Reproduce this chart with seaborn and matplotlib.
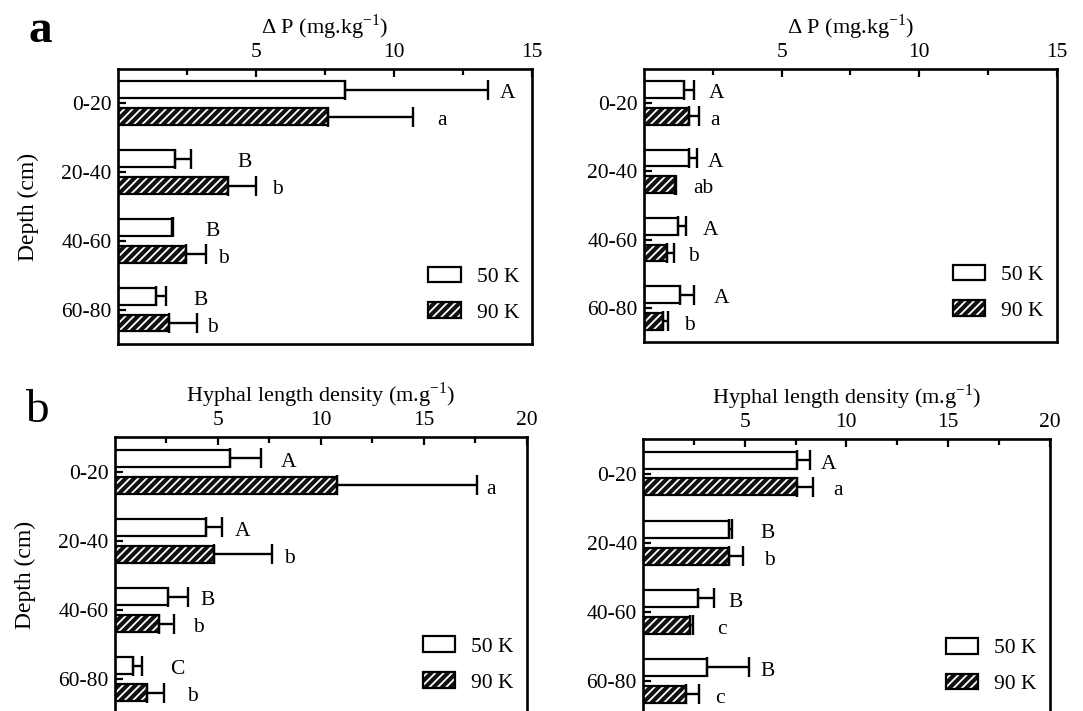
import numpy as np
import pandas as pd
import matplotlib
matplotlib.use('Agg')
import matplotlib.pyplot as plt
import matplotlib.patches as mpatches
import seaborn as sns

sns.set_theme(style='ticks', rc={'axes.edgecolor': 'black', 'xtick.color': 'black',
                                 'ytick.color': 'black', 'text.color': 'black',
                                 'axes.labelcolor': 'black'})
plt.rcParams['font.family'] = ['Liberation Serif', 'DejaVu Serif']
plt.rcParams['mathtext.fontset'] = 'custom'
plt.rcParams['mathtext.rm'] = 'Liberation Serif'
plt.rcParams['hatch.linewidth'] = 1.3

depths = ['0-20', '20-40', '40-60', '60-80']
treatments = ['50 K', '90 K']

# panel a, left: delta P
dp_l_50 = [8.24, 2.07, 1.94, 1.38]
dp_l_50_err = [5.15, 0.57, 0.06, 0.35]
dp_l_90 = [7.62, 3.97, 2.45, 1.84]
dp_l_90_err = [3.08, 1.04, 0.75, 1.01]
dp_l_letters = ['A', 'a', 'B', 'b', 'B', 'b', 'B', 'b']

# panel a, right: delta P
dp_r_50 = [1.44, 1.63, 1.22, 1.30]
dp_r_50_err = [0.38, 0.31, 0.29, 0.52]
dp_r_90 = [1.65, 1.13, 0.85, 0.71]
dp_r_90_err = [0.35, 0.04, 0.24, 0.17]
dp_r_letters = ['A', 'a', 'A', 'ab', 'A', 'b', 'A', 'b']

# panel b, left: hyphal length density
hl_l_50 = [5.60, 4.42, 2.57, 0.88]
hl_l_50_err = [1.48, 0.78, 0.99, 0.44]
hl_l_90 = [10.77, 4.79, 2.13, 1.53]
hl_l_90_err = [6.80, 2.84, 0.73, 0.83]
hl_l_letters = ['A', 'a', 'A', 'b', 'B', 'b', 'C', 'b']

# panel b, right: hyphal length density
hl_r_50 = [7.58, 4.24, 2.68, 3.12]
hl_r_50_err = [0.62, 0.15, 0.79, 2.11]
hl_r_90 = [7.57, 4.21, 2.30, 2.13]
hl_r_90_err = [0.79, 0.72, 0.13, 0.64]
hl_r_letters = ['A', 'a', 'B', 'b', 'B', 'c', 'B', 'c']

# letter offsets (pixels) from the error bar end
dx_tl = [20, 29, 54, 21, 39, 17, 35, 16]
dx_tr = [22, 16, 18, 27, 25, 19, 27, 21]
dx_bl = [28, 14, 20, 17, 19, 25, 35, 29]
dx_br = [19, 25, 35, 26, 22, 29, 18, 20]

FS = 15.5
WHITE = (1, 1, 1, 1)


def draw_panel(ax, v50, e50, v90, e90, letters, dx, xmax, xlabel, ylabel):
    df = pd.DataFrame({'depth': depths * 2,
                       'treatment': [treatments[0]] * 4 + [treatments[1]] * 4,
                       'value': v50 + v90})
    sns.barplot(data=df, x='value', y='depth', hue='treatment', order=depths,
                hue_order=treatments, orient='h', errorbar=None, width=0.78,
                gap=0.37, legend=False, ax=ax)
    errs = [e50, e90]
    for bar in list(ax.patches):
        yc = bar.get_y() + bar.get_height() / 2
        j = int(round(yc))
        i = 0 if yc < j else 1
        xv = bar.get_width()
        bar.set_edgecolor('black')
        bar.set_linewidth(1.6)
        if i == 1:
            bar.set_facecolor('#111111')
            bar.set_hatch('////')
            bar._hatch_color = WHITE
        else:
            bar.set_facecolor('white')
        e = errs[i][j]
        ax.errorbar([xv], [yc], xerr=[[0], [e]], fmt='none', ecolor='black',
                    elinewidth=1.7, capsize=7, capthick=1.7)
        k = j * 2 + i
        ax.annotate(letters[k], xy=(xv + e, yc), xytext=(dx[k], -4),
                    textcoords='offset pixels', ha='center', va='center',
                    fontsize=FS)

    ax.set_xlim(0, xmax)
    ax.set_ylim(3.5, -0.5)
    ax.xaxis.tick_top()
    ax.xaxis.set_label_position('top')
    ax.set_xticks(np.arange(5, xmax + 1, 5))
    ax.set_xticks(np.arange(2.5, xmax, 5), minor=True)
    ax.tick_params(axis='x', which='major', direction='in', length=5.5, width=1.6,
                   labelsize=FS, pad=5, top=True, bottom=False)
    ax.tick_params(axis='x', which='minor', direction='in', length=4, width=1.6,
                   top=True, bottom=False)
    ax.tick_params(axis='y', direction='in', length=5.5, width=1.6, labelsize=FS,
                   pad=4.5)
    for sp in ax.spines.values():
        sp.set_visible(True)
        sp.set_linewidth(1.9)
        sp.set_color('black')
    ax.set_xlabel(xlabel, fontsize=16, labelpad=7)
    ax.set_ylabel(ylabel, fontsize=17, labelpad=16)

    handles = [mpatches.Patch(facecolor='white', edgecolor='black', linewidth=1.6,
                              label=treatments[0]),
               mpatches.Patch(facecolor='#111111', edgecolor='black', linewidth=1.6,
                              hatch='////', label=treatments[1])]
    leg = ax.legend(handles=handles, loc='lower right', bbox_to_anchor=(1.0, 0.03),
                    frameon=False, fontsize=FS, handlelength=1.5, handleheight=0.75,
                    handletextpad=0.75, labelspacing=0.72, borderaxespad=0.2)
    for p in leg.get_patches():
        if p.get_hatch():
            p._hatch_color = WHITE


fig = plt.figure(figsize=(10.83, 7.11), dpi=100)
ax_tl = fig.add_axes([0.1090, 0.5162, 0.3823, 0.3868])
ax_tr = fig.add_axes([0.5946, 0.519, 0.3813, 0.384])
ax_bl = fig.add_axes([0.1062, -0.004, 0.3802, 0.3894])
ax_br = fig.add_axes([0.5939, -0.006, 0.3753, 0.3886])

dp_label = r'$\Delta$ P (mg.kg$^{\mathregular{-1}}$)'
hl_label = r'Hyphal length density (m.g$^{\mathregular{-1}}$)'

draw_panel(ax_tl, dp_l_50, dp_l_50_err, dp_l_90, dp_l_90_err, dp_l_letters, dx_tl,
           15, dp_label, 'Depth (cm)')
draw_panel(ax_tr, dp_r_50, dp_r_50_err, dp_r_90, dp_r_90_err, dp_r_letters, dx_tr,
           15, dp_label, '')
draw_panel(ax_bl, hl_l_50, hl_l_50_err, hl_l_90, hl_l_90_err, hl_l_letters, dx_bl,
           20, hl_label, 'Depth (cm)')
draw_panel(ax_br, hl_r_50, hl_r_50_err, hl_r_90, hl_r_90_err, hl_r_letters, dx_br,
           20, hl_label, '')

fig.text(0.026, 0.941, 'a', fontsize=34, fontweight='bold')
fig.text(0.023, 0.406, 'b', fontsize=34)

plt.savefig('out.png', dpi=100)
